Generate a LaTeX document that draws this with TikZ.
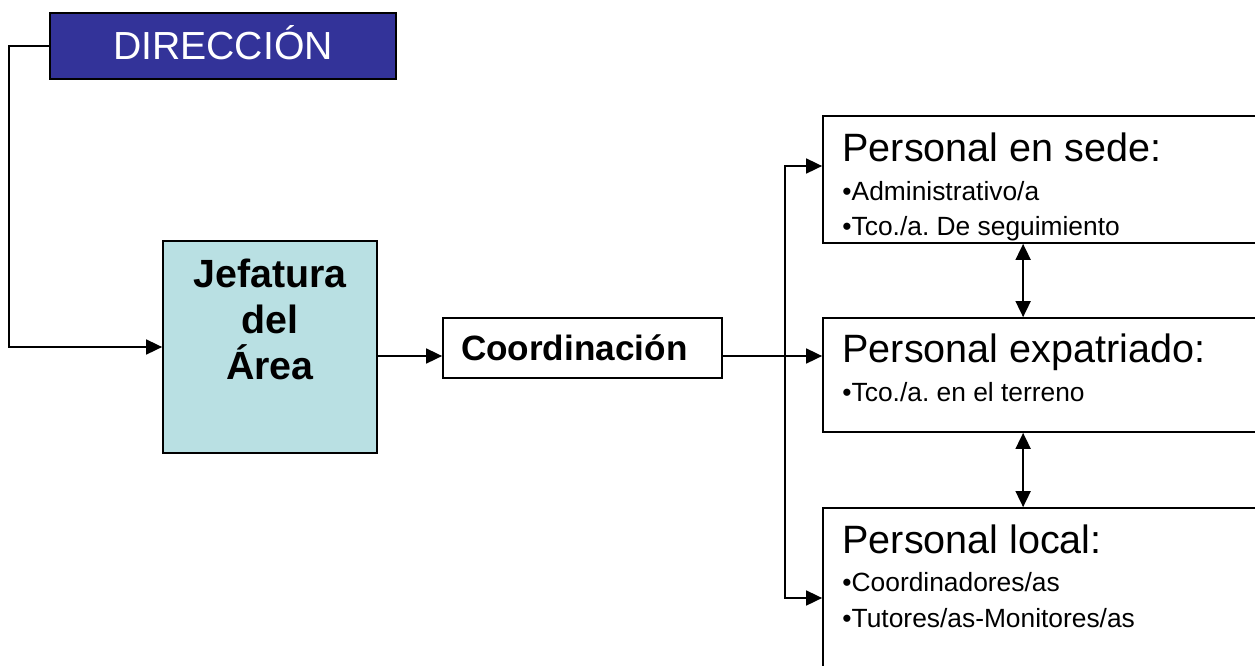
\documentclass[tikz,border=0pt]{standalone}
\usepackage{fontspec}
\setmainfont{Liberation Sans}
\usetikzlibrary{arrows.meta}
\definecolor{azuldir}{RGB}{51,51,153}
\definecolor{celeste}{RGB}{185,224,227}
\frenchspacing
\begin{document}
\begin{tikzpicture}
		\tikzstyle{caja}=[draw,line width=1pt,inner sep=0pt]
		\tikzstyle{titulo}=[inner sep=0pt,anchor=base west,font=\fontsize{22.5}{27}\selectfont]
		\tikzstyle{punto}=[inner sep=0pt,anchor=base west,font=\fontsize{15}{18}\selectfont]
		\tikzstyle{flecha}=[line width=1pt,-{Triangle[length=0.32cm,width=0.3cm]}]
		\tikzstyle{doble}=[line width=1pt,{Triangle[length=0.32cm,width=0.3cm]}-{Triangle[length=0.32cm,width=0.3cm]}]
		\path[use as bounding box,clip] (0,0) rectangle (25.1,-13.3);
		\node[caja,fill=azuldir,line width=1.5pt,minimum width=6.92cm,minimum height=1.32cm,text=white,text height=16pt,font=\fontsize{22.3}{26}\selectfont] (dir) at (4.46,-0.92) {DIRECCIÓN};
		\node[caja,fill=celeste,minimum width=4.28cm,minimum height=4.24cm] (jefe) at (5.4,-6.94) {};
		\node[inner sep=0pt,align=center,font=\bfseries\fontsize{22.4}{26}\selectfont] (jefetxt) at (5.4,-6.39) {Jefatura\\del\\Área};
		\node[caja,minimum width=5.58cm,minimum height=1.2cm,text width=4.86cm,inner xsep=0.36cm,text height=14.3pt,font=\bfseries\fontsize{20}{24}\selectfont] (coord) at (11.65,-6.96) {Coordinación};
		% cajas de personal
		\node[caja,minimum width=9.04cm,minimum height=2.54cm] (sede) at (20.98,-3.59) {};
		\node[caja,minimum width=9.04cm,minimum height=2.28cm] (expat) at (20.98,-7.5) {};
		\node[caja,minimum width=9.04cm,minimum height=3.6cm] (local) at (20.98,-11.96) {};
		\node[titulo] (sedet) at ([xshift=0.4cm,yshift=-0.92cm]sede.north west) {Personal en sede:};
		\node[punto] (sede1) at ([xshift=0.4cm,yshift=-1.7cm]sede.north west) {•Administrativo/a};
		\node[punto] (sede2) at ([xshift=0.4cm,yshift=-2.4cm]sede.north west) {•Tco./a. De seguimiento};
		\node[titulo] (expatt) at ([xshift=0.4cm,yshift=-0.9cm]expat.north west) {Personal expatriado:};
		\node[punto] (expat1) at ([xshift=0.4cm,yshift=-1.68cm]expat.north west) {•Tco./a. en el terreno};
		\node[titulo] (localt) at ([xshift=0.4cm,yshift=-0.92cm]local.north west) {Personal local:};
		\node[punto] (local1) at ([xshift=0.4cm,yshift=-1.68cm]local.north west) {•Coordinadores/as};
		\node[punto] (local2) at ([xshift=0.4cm,yshift=-2.4cm]local.north west) {•Tutores/as-Monitores/as};
		% conectores
		\draw[flecha] (dir.west) -- ++(-0.8,0) |- (jefe.west);
		\draw[flecha] ([yshift=-0.16cm]coord.west -| jefe.east) -- ([yshift=-0.16cm]coord.west);
		\coordinate (tronco) at (15.7,-7.12);
		\draw[flecha] ([yshift=-0.16cm]coord.east) -- (tronco -| expat.west);
		\draw[flecha] (tronco) |- ([yshift=0.27cm]sede.west);
		\draw[flecha] (tronco) |- (local.west);
		\draw[doble] ([xshift=4.02cm]sede.south west) -- ([xshift=4.02cm]expat.north west);
		\draw[doble] ([xshift=4.02cm]expat.south west) -- ([xshift=4.02cm]local.north west);
	\end{tikzpicture}
\end{document}
